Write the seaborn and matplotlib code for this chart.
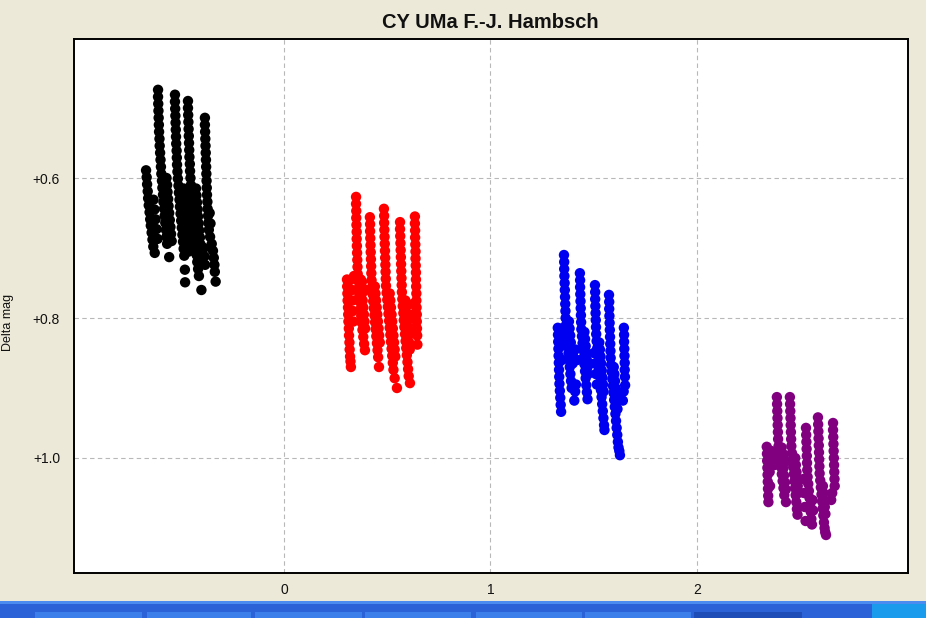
import matplotlib
matplotlib.use("Agg")
import matplotlib.pyplot as plt
from matplotlib.patches import Rectangle
import pandas as pd
import seaborn as sns

# ---- photometry: time (days, offset) and differential magnitude, one list per night ----
t1 = [-0.668, -0.665, -0.663, -0.660, -0.658, -0.655, -0.651, -0.648, -0.645, -0.641, -0.637, -0.633, -0.626,
      -0.632, -0.627, -0.622, -0.617, -0.612,
      -0.610, -0.610, -0.609, -0.608, -0.607, -0.606, -0.605, -0.603, -0.602, -0.600, -0.598, -0.596,
      -0.594, -0.591, -0.589, -0.586, -0.584, -0.581, -0.578, -0.575, -0.572, -0.569, -0.566, -0.556,
      -0.569, -0.566, -0.564, -0.561, -0.559, -0.556, -0.553, -0.550, -0.547, -0.544,
      -0.528, -0.528, -0.527, -0.526, -0.525, -0.524, -0.523, -0.522, -0.520, -0.519, -0.518, -0.516, -0.514,
      -0.511, -0.509, -0.506, -0.504, -0.501, -0.498, -0.495, -0.492, -0.489, -0.486, -0.483, -0.480, -0.479,
      -0.486, -0.484, -0.481, -0.479, -0.476, -0.473, -0.470, -0.467, -0.464, -0.461,
      -0.465, -0.465, -0.464, -0.463, -0.462, -0.461, -0.460, -0.459, -0.458, -0.456, -0.455, -0.453,
      -0.451, -0.449, -0.446, -0.443, -0.441, -0.438, -0.435, -0.432, -0.429, -0.426, -0.423, -0.420, -0.416,
      -0.412, -0.400,
      -0.426, -0.424, -0.421, -0.418, -0.416, -0.413, -0.410, -0.407, -0.404, -0.401, -0.398,
      -0.383, -0.383, -0.382, -0.381, -0.380, -0.379, -0.378, -0.377, -0.376, -0.375, -0.374, -0.373, -0.371,
      -0.370, -0.368, -0.366, -0.364,
      -0.358, -0.350, -0.344, -0.340, -0.337, -0.335, -0.331,
      -0.360, -0.356, -0.388, -0.385, -0.382]
m1 = [0.589, 0.599, 0.609, 0.619, 0.629, 0.639, 0.649, 0.659, 0.668, 0.678, 0.688, 0.698, 0.707,
      0.631, 0.645, 0.659, 0.673, 0.687,
      0.474, 0.484, 0.494, 0.504, 0.514, 0.524, 0.534, 0.544, 0.554, 0.564, 0.574, 0.584,
      0.594, 0.604, 0.614, 0.624, 0.634, 0.644, 0.654, 0.664, 0.674, 0.684, 0.694, 0.713,
      0.600, 0.610, 0.620, 0.630, 0.640, 0.650, 0.660, 0.670, 0.680, 0.690,
      0.481, 0.491, 0.501, 0.511, 0.521, 0.531, 0.541, 0.551, 0.561, 0.571, 0.581, 0.591, 0.601,
      0.611, 0.621, 0.631, 0.641, 0.651, 0.661, 0.671, 0.681, 0.691, 0.701, 0.711, 0.731, 0.749,
      0.615, 0.625, 0.635, 0.645, 0.655, 0.665, 0.675, 0.685, 0.695, 0.705,
      0.490, 0.500, 0.510, 0.520, 0.530, 0.540, 0.550, 0.560, 0.570, 0.580, 0.590, 0.600,
      0.610, 0.620, 0.630, 0.640, 0.650, 0.660, 0.670, 0.680, 0.690, 0.700, 0.710, 0.720, 0.730,
      0.740, 0.760,
      0.615, 0.625, 0.635, 0.645, 0.655, 0.665, 0.675, 0.685, 0.695, 0.705, 0.715,
      0.514, 0.524, 0.534, 0.544, 0.554, 0.564, 0.574, 0.584, 0.594, 0.604, 0.614, 0.624, 0.634,
      0.644, 0.654, 0.664, 0.674,
      0.684, 0.694, 0.704, 0.714, 0.724, 0.734, 0.748,
      0.650, 0.665, 0.700, 0.712, 0.724]

t2 = [0.305, 0.306, 0.307, 0.308, 0.310, 0.311, 0.312, 0.314, 0.315, 0.317, 0.318, 0.320, 0.322, 0.324,
      0.330, 0.332, 0.334, 0.336,
      0.349, 0.349, 0.350, 0.350, 0.351, 0.352, 0.352, 0.353, 0.354, 0.355, 0.356, 0.357,
      0.359, 0.362, 0.365, 0.368, 0.371, 0.374, 0.377, 0.380, 0.384, 0.388, 0.392,
      0.320, 0.339, 0.378, 0.397,
      0.372, 0.375, 0.378, 0.381, 0.384, 0.387, 0.390, 0.393,
      0.416, 0.417, 0.417, 0.418, 0.419, 0.420, 0.421, 0.422, 0.423, 0.424,
      0.426, 0.429, 0.432, 0.435, 0.438, 0.441, 0.444, 0.447, 0.450, 0.453, 0.456, 0.460,
      0.440, 0.443, 0.446, 0.449, 0.452, 0.455, 0.458, 0.461, 0.464,
      0.484, 0.485, 0.485, 0.486, 0.487, 0.488, 0.489, 0.490, 0.491, 0.492, 0.493, 0.494,
      0.497, 0.500, 0.503, 0.506, 0.509, 0.512, 0.515, 0.518, 0.521, 0.524, 0.527, 0.530, 0.536, 0.547,
      0.512, 0.515, 0.518, 0.521, 0.524, 0.527, 0.530, 0.533, 0.536, 0.539,
      0.562, 0.562, 0.563, 0.564, 0.565, 0.566, 0.567, 0.568, 0.569, 0.570, 0.571,
      0.573, 0.575, 0.578, 0.580, 0.583, 0.586, 0.589, 0.592, 0.595, 0.598, 0.601, 0.604, 0.610,
      0.588, 0.591, 0.594, 0.597, 0.600, 0.603, 0.606, 0.609,
      0.634, 0.634, 0.635, 0.635, 0.636, 0.637, 0.637, 0.638, 0.639, 0.639, 0.640, 0.641, 0.641,
      0.642, 0.643, 0.643, 0.644, 0.645, 0.646,
      0.625, 0.622, 0.628, 0.626]
m2 = [0.745, 0.755, 0.765, 0.775, 0.785, 0.795, 0.805, 0.815, 0.825, 0.835, 0.845, 0.855, 0.862, 0.870,
      0.760, 0.775, 0.790, 0.805,
      0.627, 0.637, 0.647, 0.657, 0.667, 0.677, 0.687, 0.697, 0.707, 0.717, 0.727, 0.737,
      0.747, 0.757, 0.767, 0.777, 0.787, 0.797, 0.807, 0.817, 0.827, 0.837, 0.846,
      0.746, 0.740, 0.748, 0.760,
      0.745, 0.755, 0.765, 0.775, 0.785, 0.795, 0.805, 0.815,
      0.656, 0.666, 0.676, 0.686, 0.696, 0.706, 0.716, 0.726, 0.736, 0.746,
      0.756, 0.766, 0.776, 0.786, 0.796, 0.806, 0.816, 0.826, 0.836, 0.846, 0.856, 0.870,
      0.755, 0.765, 0.775, 0.785, 0.795, 0.805, 0.815, 0.825, 0.835,
      0.644, 0.654, 0.664, 0.674, 0.684, 0.694, 0.704, 0.714, 0.724, 0.734, 0.744, 0.754,
      0.764, 0.774, 0.784, 0.794, 0.804, 0.814, 0.824, 0.834, 0.844, 0.854, 0.864, 0.874, 0.886, 0.900,
      0.765, 0.775, 0.785, 0.795, 0.805, 0.815, 0.825, 0.835, 0.845, 0.855,
      0.663, 0.673, 0.683, 0.693, 0.703, 0.713, 0.723, 0.733, 0.743, 0.753, 0.763,
      0.773, 0.783, 0.793, 0.803, 0.813, 0.823, 0.833, 0.843, 0.853, 0.863, 0.873, 0.883, 0.893,
      0.775, 0.785, 0.795, 0.805, 0.815, 0.825, 0.835, 0.845,
      0.655, 0.665, 0.675, 0.685, 0.695, 0.705, 0.715, 0.725, 0.735, 0.745, 0.755, 0.765, 0.775,
      0.785, 0.795, 0.805, 0.815, 0.825, 0.838,
      0.780, 0.795, 0.800, 0.815]

t3 = [1.326, 1.327, 1.328, 1.329, 1.330, 1.331, 1.332, 1.333, 1.334, 1.336, 1.338, 1.340, 1.342,
      1.340, 1.343, 1.346,
      1.356, 1.357, 1.357, 1.358, 1.359, 1.360, 1.361, 1.362, 1.363, 1.364,
      1.366, 1.369, 1.372, 1.375, 1.378, 1.381, 1.384, 1.387, 1.390, 1.393,
      1.345, 1.350, 1.372, 1.380,
      1.380, 1.383, 1.386, 1.389, 1.392, 1.395, 1.398,
      1.400, 1.410, 1.420,
      1.433, 1.434, 1.434, 1.435, 1.436, 1.437, 1.438, 1.439, 1.440,
      1.443, 1.446, 1.449, 1.452, 1.455, 1.458, 1.461, 1.464, 1.467, 1.470,
      1.455, 1.458, 1.461, 1.464, 1.467, 1.470, 1.473,
      1.414, 1.410, 1.406,
      1.506, 1.507, 1.507, 1.508, 1.509, 1.510, 1.511, 1.512,
      1.514, 1.517, 1.520, 1.523, 1.526, 1.529, 1.532, 1.535, 1.538, 1.541, 1.544, 1.547, 1.550, 1.552,
      1.500, 1.505, 1.510, 1.515,
      1.527, 1.530, 1.533, 1.536, 1.539, 1.542, 1.545, 1.548,
      1.574, 1.575, 1.575, 1.576, 1.577, 1.578, 1.579, 1.580, 1.581, 1.582,
      1.584, 1.587, 1.590, 1.593, 1.596, 1.599, 1.602, 1.605, 1.608, 1.611, 1.614, 1.617, 1.620,
      1.624, 1.627,
      1.597, 1.600, 1.603, 1.606, 1.609, 1.612, 1.615,
      1.646, 1.647, 1.647, 1.648, 1.649, 1.650, 1.650, 1.651, 1.652,
      1.645, 1.641]
m3 = [0.814, 0.824, 0.834, 0.844, 0.854, 0.864, 0.874, 0.884, 0.894, 0.904, 0.914, 0.924, 0.934,
      0.820, 0.840, 0.860,
      0.710, 0.720, 0.730, 0.740, 0.750, 0.760, 0.770, 0.780, 0.790, 0.800,
      0.810, 0.820, 0.830, 0.840, 0.850, 0.860, 0.870, 0.880, 0.890, 0.900,
      0.815, 0.830, 0.805, 0.815,
      0.805, 0.815, 0.825, 0.835, 0.845, 0.855, 0.865,
      0.850, 0.845, 0.860,
      0.736, 0.746, 0.756, 0.766, 0.776, 0.786, 0.796, 0.806, 0.816,
      0.826, 0.836, 0.846, 0.856, 0.866, 0.876, 0.886, 0.896, 0.906, 0.916,
      0.820, 0.830, 0.840, 0.850, 0.860, 0.870, 0.880,
      0.895, 0.905, 0.918,
      0.753, 0.763, 0.773, 0.783, 0.793, 0.803, 0.813, 0.823,
      0.833, 0.843, 0.853, 0.863, 0.873, 0.883, 0.893, 0.903, 0.913, 0.923, 0.933, 0.943, 0.953, 0.960,
      0.850, 0.865, 0.880, 0.895,
      0.835, 0.845, 0.855, 0.865, 0.875, 0.885, 0.895, 0.905,
      0.767, 0.777, 0.787, 0.797, 0.807, 0.817, 0.827, 0.837, 0.847, 0.857,
      0.867, 0.877, 0.887, 0.897, 0.907, 0.917, 0.927, 0.937, 0.947, 0.957, 0.967, 0.977, 0.985,
      0.990, 0.996,
      0.870, 0.880, 0.890, 0.900, 0.910, 0.920, 0.930,
      0.814, 0.824, 0.834, 0.844, 0.854, 0.864, 0.874, 0.884, 0.896,
      0.905, 0.918]

t4 = [2.338, 2.339, 2.340, 2.341, 2.342, 2.343, 2.344, 2.345, 2.346,
      2.350, 2.352, 2.354,
      2.387, 2.388, 2.389, 2.390, 2.391, 2.392, 2.393,
      2.395, 2.399, 2.403, 2.407, 2.411, 2.415, 2.419, 2.423, 2.431,
      2.360, 2.368, 2.376, 2.420, 2.430,
      2.410, 2.414, 2.418, 2.422, 2.426, 2.430,
      2.450, 2.451, 2.452, 2.453, 2.454, 2.455, 2.456, 2.457,
      2.460, 2.463, 2.466, 2.469, 2.472, 2.475, 2.478, 2.481, 2.484, 2.487,
      2.476, 2.479, 2.482, 2.485, 2.488, 2.491,
      2.528, 2.529, 2.530, 2.531, 2.532, 2.533, 2.534,
      2.536, 2.539, 2.542, 2.545, 2.548, 2.551, 2.554, 2.557,
      2.515, 2.518, 2.522, 2.526, 2.560, 2.563,
      2.586, 2.587, 2.588, 2.589, 2.590, 2.591, 2.592, 2.593, 2.594,
      2.597, 2.600, 2.603, 2.606, 2.609, 2.612, 2.615, 2.618, 2.621, 2.625,
      2.610, 2.613, 2.616, 2.619, 2.622,
      2.659, 2.659, 2.660, 2.661, 2.662, 2.663, 2.664, 2.665, 2.666, 2.667,
      2.655, 2.650]
m4 = [0.984, 0.994, 1.004, 1.014, 1.024, 1.034, 1.044, 1.054, 1.063,
      1.000, 1.020, 1.040,
      0.913, 0.923, 0.933, 0.943, 0.953, 0.963, 0.973,
      0.983, 0.993, 1.003, 1.013, 1.023, 1.033, 1.043, 1.053, 1.063,
      0.990, 1.000, 1.010, 0.995, 1.005,
      0.985, 0.995, 1.015, 1.025, 1.035, 1.045,
      0.913, 0.923, 0.933, 0.943, 0.953, 0.963, 0.973, 0.983,
      0.993, 1.003, 1.013, 1.023, 1.033, 1.043, 1.053, 1.063, 1.073, 1.081,
      1.000, 1.010, 1.020, 1.030, 1.040, 1.050,
      0.957, 0.967, 0.977, 0.987, 0.997, 1.007, 1.017,
      1.027, 1.037, 1.047, 1.057, 1.067, 1.077, 1.087, 1.095,
      1.030, 1.050, 1.070, 1.090, 1.060, 1.075,
      0.942, 0.952, 0.962, 0.972, 0.982, 0.992, 1.002, 1.012, 1.022,
      1.032, 1.042, 1.052, 1.062, 1.072, 1.082, 1.092, 1.100, 1.106, 1.110,
      1.040, 1.050, 1.060, 1.070, 1.080,
      0.950, 0.960, 0.970, 0.980, 0.990, 1.000, 1.010, 1.020, 1.030, 1.040,
      1.050, 1.060]

nights = ["N1", "N2", "N3", "N4"]
night_colors = ["#000000", "#FF0000", "#0000F0", "#800080"]
x_ticks = [0, 1, 2]
y_ticks = [0.6, 0.8, 1.0]
y_tick_labels = ["+0.6", "+0.8", "+1.0"]
title = "CY UMa F.-J. Hambsch"
y_label = "Delta mag"

df = pd.concat(
    [pd.DataFrame({"t": t, "mag": m, "night": n})
     for n, t, m in zip(nights, [t1, t2, t3, t4], [m1, m2, m3, m4])],
    ignore_index=True)

sns.set_style("white")
plt.rcParams["font.family"] = ["Liberation Sans", "DejaVu Sans"]

W, H = 926, 618
bg = "#ECE9D8"
fig = plt.figure(figsize=(W / 100, H / 100), dpi=100, facecolor=bg)
ax = fig.add_axes([74 / W, 1 - 573 / H, (908 - 74) / W, (573 - 39) / H])
ax.set_facecolor("white")

sns.scatterplot(data=df, x="t", y="mag", hue="night", palette=night_colors,
                s=56, linewidth=0, alpha=1, legend=False, ax=ax, zorder=3)

ax.set_xlim(-1.017, 3.022)
ax.set_ylim(1.1643, 0.4014)
ax.set_xticks(x_ticks)
ax.set_xticklabels([str(v) for v in x_ticks])
ax.set_yticks(y_ticks)
ax.set_yticklabels(y_tick_labels)
ax.grid(True, color="#B8B8B8", linestyle=(0, (4, 3)), linewidth=0.8, zorder=1)
ax.set_axisbelow(True)
ax.tick_params(axis="both", length=0, labelsize=10, colors="#111111")
ax.tick_params(axis="y", pad=10)
ax.tick_params(axis="x", pad=7)
ax.set_xlabel("")
ax.set_ylabel(y_label, fontsize=9, color="#111111")
ax.yaxis.set_label_coords(-0.0715, 0.47)
for sp in ax.spines.values():
    sp.set_visible(True)
    sp.set_color("#000000")
    sp.set_linewidth(1.4)

fig.text(490 / W, 1 - 23 / H, title, ha="center", va="center",
         fontsize=14.5, fontweight="bold", color="#111111")

# desktop taskbar strip along the bottom edge
def frect(x0, y0, x1, y1, color):
    fig.patches.append(Rectangle((x0 / W, 1 - y1 / H), (x1 - x0) / W, (y1 - y0) / H,
                                 transform=fig.transFigure, facecolor=color,
                                 edgecolor="none", zorder=0))

frect(0, 601, W, H, "#2B62D8")
frect(0, 601, W, 604, "#4A8CF0")
for x0, x1 in [(35, 142), (147, 251), (255, 362), (365, 471), (476, 582), (585, 691)]:
    frect(x0, 612, x1, H, "#3D7FEA")
frect(694, 612, 802, H, "#1E4DB8")
frect(872, 604, W, H, "#1A9BEB")

fig.savefig("out.png", dpi=100, facecolor=bg)
